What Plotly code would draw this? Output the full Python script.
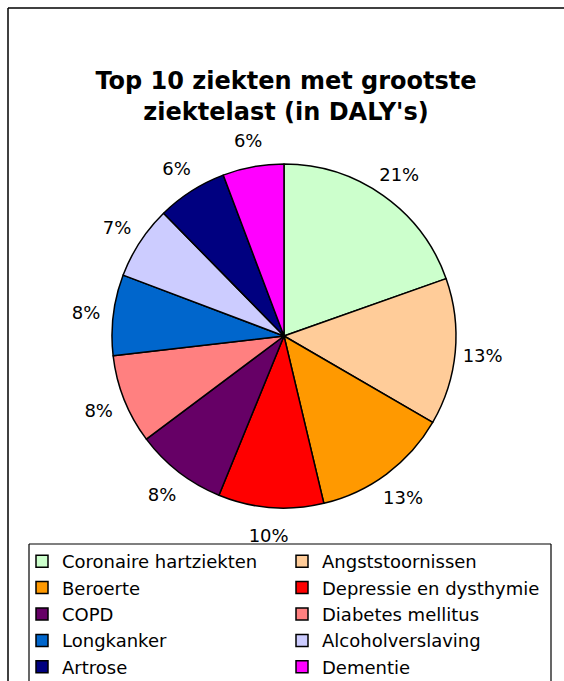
import plotly.graph_objects as go

categories = ["Coronaire hartziekten", "Angststoornissen", "Beroerte",
              "Depressie en dysthymie", "COPD", "Diabetes mellitus",
              "Longkanker", "Alcoholverslaving", "Artrose", "Dementie"]
# shares (%)
shares = [19.6, 13.8, 12.9, 9.9, 8.6, 8.4, 7.6, 6.9, 6.6, 5.75]
# percentage labels as printed on the chart
pct_labels = ["21%", "13%", "13%", "10%", "8%", "8%", "8%", "7%", "6%", "6%"]
colors = ["#CCFFCC", "#FFCC99", "#FF9900", "#FF0000", "#660066",
          "#FF8080", "#0066CC", "#CCCCFF", "#000080", "#FF00FF"]

W, H = 564, 681
cx, cy, r = 284, 336, 172           # pie centre / radius in pixels
ring_cy = 337                       # centre of the invisible label ring
r_ring_out, r_ring_in = 231, 168    # invisible ring that carries the % labels


def dom(rad, ccy):
    return dict(x=[(cx - rad) / W, (cx + rad) / W],
                y=[(H - ccy - rad) / H, (H - ccy + rad) / H])


def px_x(v):
    return v / W


def px_y(v):
    return 1 - v / H


fig = go.Figure()
fig.add_trace(go.Pie(
    labels=categories,
    values=shares,
    textinfo="none",
    marker=dict(colors=colors, line=dict(color="black", width=1.5)),
    sort=False,
    direction="clockwise",
    rotation=0,
    domain=dom(r, cy),
    showlegend=True,
    hoverinfo="label+percent",
))
fig.add_trace(go.Pie(
    labels=[c + "\u200b" for c in categories],
    values=shares,
    text=pct_labels,
    textinfo="text",
    textposition="inside",
    insidetextorientation="horizontal",
    hole=r_ring_in / r_ring_out,
    textfont=dict(family="DejaVu Sans", size=18, color="black"),
    marker=dict(colors=["rgba(0,0,0,0)"] * len(categories),
                line=dict(width=0)),
    sort=False,
    direction="clockwise",
    rotation=0,
    domain=dom(r_ring_out, ring_cy),
    showlegend=False,
    hoverinfo="skip",
))

line = dict(color="black", width=1.5)
fig.update_layout(
    width=W, height=H,
    margin=dict(l=0, r=0, t=0, b=0, autoexpand=False),
    paper_bgcolor="white",
    plot_bgcolor="white",
    title=dict(
        text="Top 10 ziekten met grootste<br>ziektelast (in DALY's)",
        x=286 / W, xanchor="center",
        y=px_y(89), yanchor="top",
        font=dict(family="DejaVu Sans", size=24, color="black", weight="bold"),
    ),
    legend=dict(
        orientation="h",
        x=px_x(22), xanchor="left",
        y=px_y(543), yanchor="top",
        entrywidthmode="pixels",
        entrywidth=215,
        font=dict(family="DejaVu Sans", size=18, color="black"),
        borderwidth=0,
        bgcolor="rgba(0,0,0,0)",
        traceorder="normal",
        itemclick=False, itemdoubleclick=False,
    ),
    shapes=[
        # outer chart frame (top and left edges visible)
        dict(type="line", xref="paper", yref="paper",
             x0=px_x(8), x1=1.05, y0=px_y(8), y1=px_y(8), line=line),
        dict(type="line", xref="paper", yref="paper",
             x0=px_x(8), x1=px_x(8), y0=px_y(8), y1=-0.05, line=line),
        # legend frame
        dict(type="line", xref="paper", yref="paper",
             x0=px_x(29), x1=px_x(551), y0=px_y(544), y1=px_y(544),
             line=dict(color="black", width=1.2)),
        dict(type="line", xref="paper", yref="paper",
             x0=px_x(29), x1=px_x(29), y0=px_y(544), y1=-0.05,
             line=dict(color="black", width=1.2)),
        dict(type="line", xref="paper", yref="paper",
             x0=px_x(551), x1=px_x(551), y0=px_y(544), y1=-0.05,
             line=dict(color="black", width=1.2)),
    ],
)

fig.write_html(
    "out.html",
    config={"displayModeBar": False},
    post_script="document.body.style.margin='0';"
                "document.body.style.overflow='hidden';",
)
